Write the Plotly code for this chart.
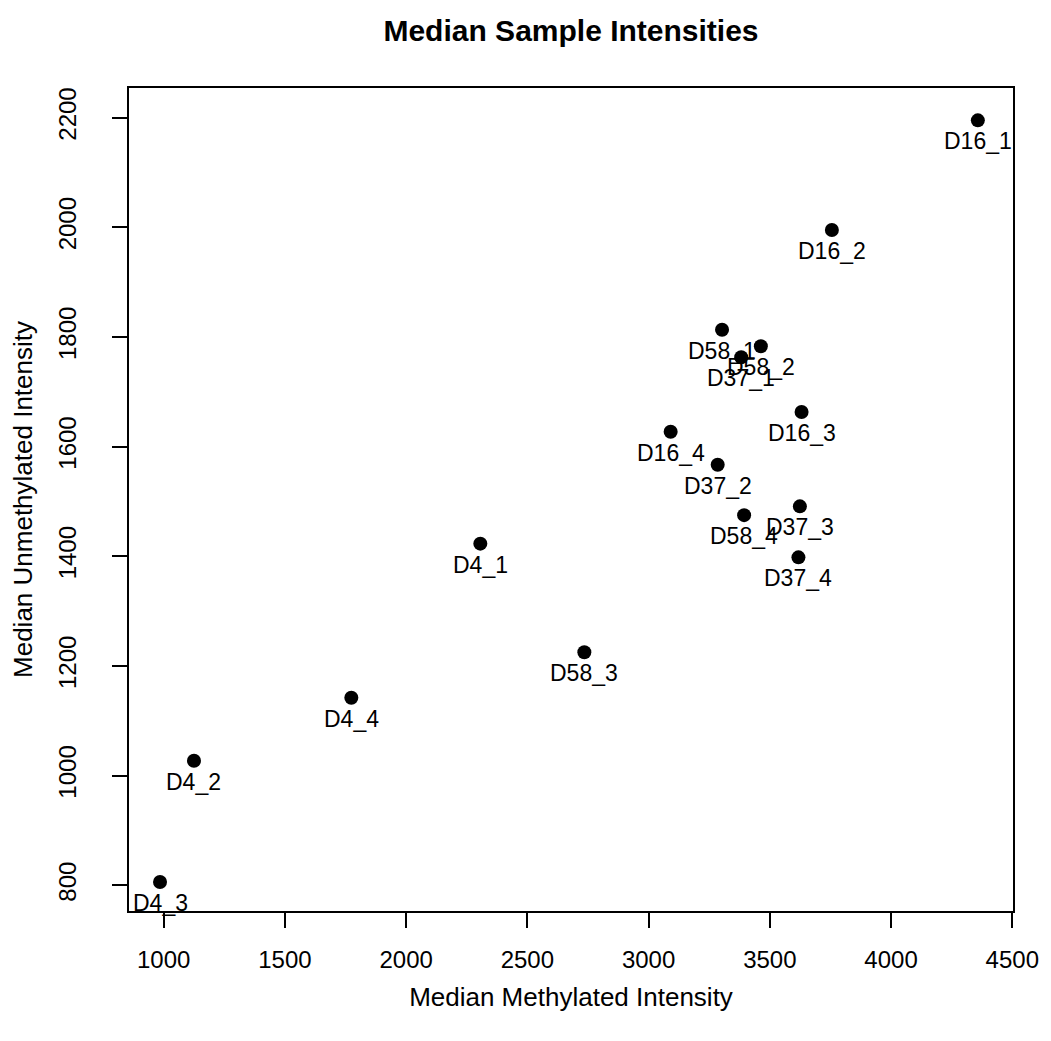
import plotly.graph_objects as go

# Median intensities per sample
samples = ["D16_1", "D16_2", "D16_3", "D16_4",
           "D37_1", "D37_2", "D37_3", "D37_4",
           "D4_1", "D4_2", "D4_3", "D4_4",
           "D58_1", "D58_2", "D58_3", "D58_4"]
methylated = [4358, 3756, 3631, 3091,
              3382, 3285, 3624, 3618,
              2306, 1125, 985, 1774,
              3303, 3463, 2735, 3394]
unmethylated = [2195, 1995, 1663, 1627,
                1763, 1567, 1491, 1398,
                1423, 1027, 806, 1142,
                1813, 1783, 1225, 1475]

x_ticks = [1000, 1500, 2000, 2500, 3000, 3500, 4000, 4500]
y_ticks = [800, 1000, 1200, 1400, 1600, 1800, 2000, 2200]

FONT = "Liberation Sans, Arial, Helvetica, sans-serif"

fig = go.Figure()
fig.add_trace(go.Scatter(
    x=methylated, y=unmethylated, mode="markers",
    marker=dict(size=14, color="black"),
    hoverinfo="text", text=samples, showlegend=False,
))

# sample names placed just below each point
for name, xv, yv in zip(samples, methylated, unmethylated):
    fig.add_annotation(x=xv, y=yv, text=name, showarrow=False,
                       xanchor="center", yanchor="middle", yshift=-21,
                       font=dict(family=FONT, size=23, color="black"))

axis_common = dict(
    showline=True, linecolor="black", linewidth=2, mirror=True,
    ticks="outside", ticklen=15, tickwidth=2, tickcolor="black",
    showgrid=False, zeroline=False,
    tickfont=dict(family=FONT, size=24, color="black"),
)

fig.update_layout(
    width=1051, height=1041,
    margin=dict(l=129, r=32, t=88, b=130),
    paper_bgcolor="white", plot_bgcolor="white",
    title=dict(text="<b>Median Sample Intensities</b>",
               x=0.5, xref="paper", xanchor="center",
               y=1 - 30 / 1041, yref="container", yanchor="middle",
               font=dict(family=FONT, size=30, color="black")),
    xaxis=dict(range=[857, 4503], tickvals=x_ticks, ticklabelstandoff=11,
               title=dict(text="Median Methylated Intensity", standoff=16,
                          font=dict(family=FONT, size=26, color="black")),
               **axis_common),
    yaxis=dict(range=[753, 2254], tickvals=y_ticks, tickangle=-90,
               ticklabelstandoff=26,
               title=dict(text="Median Unmethylated Intensity", standoff=14,
                          font=dict(family=FONT, size=26, color="black")),
               **axis_common),
)

fig.write_html("out.html")
